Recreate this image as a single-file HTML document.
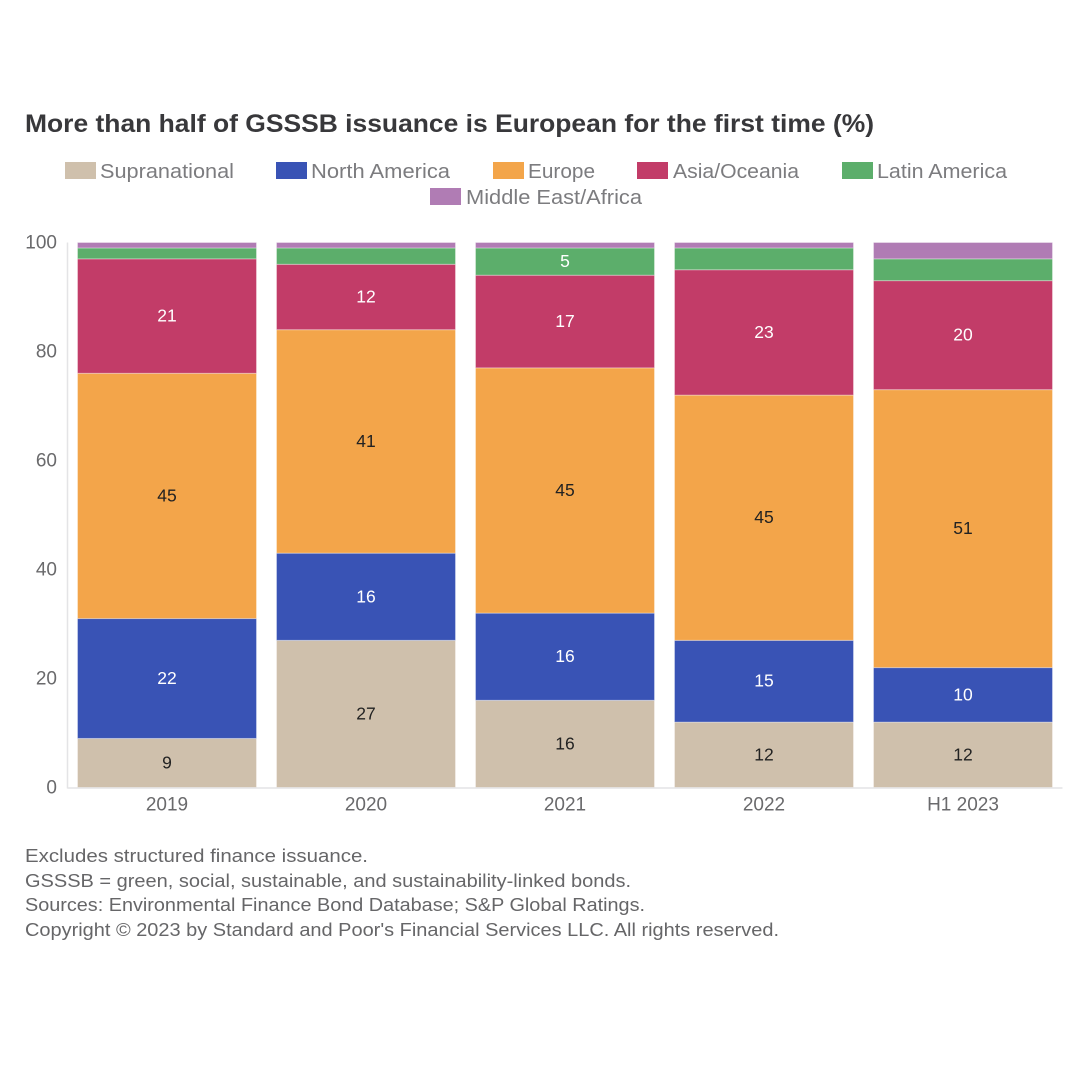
<!DOCTYPE html>
<html lang="en">
<head>
<meta charset="utf-8">
<title>GSSSB issuance by region</title>
<style>
html,body{margin:0;padding:0;background:#fff;width:1080px;height:1080px;overflow:hidden}
svg{display:block}
text{font-family:"Liberation Sans",sans-serif}
.lg{font-size:20px;fill:#7c7c7f}
.tk{font-size:19px;fill:#6a6a6c}
.fn{font-size:18.5px;fill:#666668}
.dl{font-size:17.5px}
</style>
</head>
<body>
<svg id="chart" width="1080" height="1080" viewBox="0 0 1080 1080" xmlns="http://www.w3.org/2000/svg">
  <rect x="0" y="0" width="1080" height="1080" fill="#ffffff"/>
  <text x="25" y="132" font-size="25" font-weight="bold" fill="#38383b" textLength="849" lengthAdjust="spacingAndGlyphs">More than half of GSSSB issuance is European for the first time (%)</text>

  <g>
    <g><rect x="65" y="162" width="31" height="17" fill="#cfc0ac"/><text class="lg" x="100" y="178" textLength="134" lengthAdjust="spacingAndGlyphs">Supranational</text></g>
    <g><rect x="276" y="162" width="31" height="17" fill="#3953b5"/><text class="lg" x="311" y="178" textLength="139" lengthAdjust="spacingAndGlyphs">North America</text></g>
    <g><rect x="493" y="162" width="31" height="17" fill="#f3a54a"/><text class="lg" x="528" y="178" textLength="67" lengthAdjust="spacingAndGlyphs">Europe</text></g>
    <g><rect x="637" y="162" width="31" height="17" fill="#c23c68"/><text class="lg" x="673" y="178" textLength="126" lengthAdjust="spacingAndGlyphs">Asia/Oceania</text></g>
    <g><rect x="842" y="162" width="31" height="17" fill="#5cae6b"/><text class="lg" x="877" y="178" textLength="130" lengthAdjust="spacingAndGlyphs">Latin America</text></g>
    <g><rect x="430" y="188" width="31" height="17" fill="#b07cb4"/><text class="lg" x="466" y="204" textLength="176" lengthAdjust="spacingAndGlyphs">Middle East/Africa</text></g>
  </g>

  <g id="y-axis"></g>
  <g id="bars"></g>
  <g id="x-axis"></g>

  <g>
    <text class="fn" x="25" y="862" textLength="343" lengthAdjust="spacingAndGlyphs">Excludes structured finance issuance.</text>
    <text class="fn" x="25" y="887" textLength="606" lengthAdjust="spacingAndGlyphs">GSSSB = green, social, sustainable, and sustainability-linked bonds.</text>
    <text class="fn" x="25" y="911" textLength="620" lengthAdjust="spacingAndGlyphs">Sources: Environmental Finance Bond Database; S&amp;P Global Ratings.</text>
    <text class="fn" x="25" y="936" textLength="754" lengthAdjust="spacingAndGlyphs">Copyright © 2023 by Standard and Poor's Financial Services LLC. All rights reserved.</text>
  </g>
</svg>
<script>
const categories = ['2019', '2020', '2021', '2022', 'H1 2023'];
const supranational = [9, 27, 16, 12, 12];
const northAmerica = [22, 16, 16, 15, 10];
const europe = [45, 41, 45, 45, 51];
const asiaOceania = [21, 12, 17, 23, 20];
const latinAmerica = [2, 3, 5, 4, 4];
const middleEastAfrica = [1, 1, 1, 1, 3];
const yTicks = [0, 20, 40, 60, 80, 100];

const NS = 'http://www.w3.org/2000/svg';
const plotLeft = 67.5, plotRight = 1062.5, plotTop = 242.5, plotBottom = 787.5;
const seriesList = [
  { slug: 'supranational', values: supranational, color: '#cfc0ac', text: '#222222' },
  { slug: 'north-america', values: northAmerica, color: '#3953b5', text: '#ffffff' },
  { slug: 'europe', values: europe, color: '#f3a54a', text: '#222222' },
  { slug: 'asia-oceania', values: asiaOceania, color: '#c23c68', text: '#ffffff' },
  { slug: 'latin-america', values: latinAmerica, color: '#5cae6b', text: '#ffffff' },
  { slug: 'middle-east-africa', values: middleEastAfrica, color: '#b07cb4', text: '#ffffff' }
];

function yScale(v) {
  return plotBottom - (v / 100) * (plotBottom - plotTop);
}
function bandWidth() {
  return (plotRight - plotLeft) / categories.length;
}
function xCenter(i) {
  return plotLeft + bandWidth() * (i + 0.5);
}
function svgEl(tag, attrs) {
  const el = document.createElementNS(NS, tag);
  Object.keys(attrs).forEach(function (k) { el.setAttribute(k, attrs[k]); });
  return el;
}

const yAxis = document.getElementById('y-axis');
const xAxis = document.getElementById('x-axis');
const barsGroup = document.getElementById('bars');

const yLine = svgEl('line', { x1: plotLeft, x2: plotLeft, y1: plotTop, y2: plotBottom + 1, stroke: '#e4e4e6', 'stroke-width': 1.5 });


yAxis.appendChild(yLine);

yTicks.forEach(function (t) {
  const label = svgEl('text', { x: 57, y: yScale(t) + 6, 'text-anchor': 'end', class: 'tk' });
  
  
  label.textContent = t;
  yAxis.appendChild(label);
});

const xLine = svgEl('line', { x1: plotLeft, x2: plotRight, y1: plotBottom + 0.5, y2: plotBottom + 0.5, stroke: '#e4e4e6', 'stroke-width': 1.5 });


xAxis.appendChild(xLine);

categories.forEach(function (cat, i) {
  const label = svgEl('text', { x: xCenter(i), y: 810.5, 'text-anchor': 'middle', class: 'tk' });
  
  
  label.textContent = cat;
  xAxis.appendChild(label);

  const barW = bandWidth() - 20;
  let cumulative = 0;
  seriesList.forEach(function (s) {
    const v = s.values[i];
    const yTop = yScale(cumulative + v);
    const yBottom = yScale(cumulative);
    const seg = svgEl('rect', {
      x: xCenter(i) - barW / 2,
      y: yTop,
      width: barW,
      height: yBottom - yTop,
      fill: s.color,
      stroke: '#ffffff',
      'stroke-opacity': 0.35,
      'stroke-width': 1
    });
    
    
    barsGroup.appendChild(seg);

    if (v >= 5) {
      const dl = svgEl('text', {
        x: xCenter(i),
        y: (yTop + yBottom) / 2 + 5.5,
        'text-anchor': 'middle',
        class: 'dl',
        fill: s.text
      });
      
      
      dl.textContent = v;
      barsGroup.appendChild(dl);
    }
    cumulative += v;
  });
});
</script>
</body>
</html>
